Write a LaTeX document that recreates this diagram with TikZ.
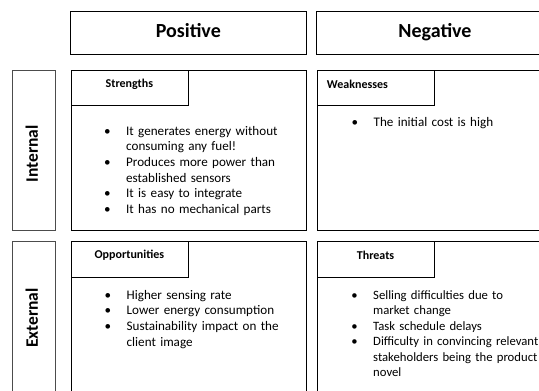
\documentclass[tikz,border=0pt]{standalone}
\usepackage{fontspec}
\setmainfont{Carlito}
\usetikzlibrary{positioning}
\newcommand\swbullet{\leavevmode\llap{\textbullet\hspace{15.5pt}}}

\begin{document}
\begin{tikzpicture}[x=1pt,y=-1pt,
		every node/.style={inner sep=0pt},
		headbox/.style={draw,line width=.8pt,minimum width=236.7pt,minimum height=43pt,text height=14pt,text depth=4pt,font=\fontsize{20}{24}\selectfont\bfseries},
		sidebox/.style={draw=black!70,line width=.8pt,minimum width=43pt,minimum height=160pt,anchor=north west},
		sidetext/.style={rotate=90,font=\fontsize{17.5}{21}\selectfont\bfseries},
		quadbox/.style={draw,line width=.8pt,minimum width=235pt,anchor=north west},
		tagbox/.style={draw,line width=.8pt,minimum width=117pt,minimum height=35.5pt,anchor=north west},
		tagtext/.style={font=\fontsize{12}{14}\selectfont\bfseries},
		listtext/.style={anchor=base west,text width=200pt,align=left,font=\fontsize{13.1}{15.7}\selectfont}]
	\useasboundingbox (0,0) rectangle (539,391);
	\clip (0,0) rectangle (539,391);
	% column heads
	\node[headbox] (pos) at (188.3,32.5) {Positive};
	\node[headbox] (neg) at (435,32.5) {Negative};
	% row heads
	\node[sidebox] (intl) at (12,70) {};
	\node[sidetext] at (31.8,154) {Internal};
	\node[sidebox,minimum height=170pt] (extl) at (12,241) {};
	\node[sidetext] at (31.8,318) {External};
	% the four fields
	\node[quadbox,minimum height=160pt] (str) at (70.5,69.5) {};
	\node[quadbox,minimum height=160pt] (weak) at (316.7,69.5) {};
	\node[quadbox,minimum height=170pt] (opp) at (70.5,241) {};
	\node[quadbox,minimum height=170pt] (thr) at (316.7,241) {};
	\node[tagbox] (strtag) at (str.north west) {};
	\node[tagbox] (weaktag) at (weak.north west) {};
	\node[tagbox] (opptag) at (opp.north west) {};
	\node[tagbox] (thrtag) at (thr.north west) {};
	\node[tagtext] at ([yshift=-14.5pt]strtag.north) {Strengths};
	\node[tagtext,anchor=west] at ([xshift=10pt,yshift=-14.5pt]weaktag.north west) {Weaknesses};
	\node[tagtext] at ([yshift=-14.5pt]opptag.north) {Opportunities};
	\node[tagtext] at ([yshift=-14.5pt]thrtag.north) {Threats};
	% bullet lists
	\node[listtext] (strlist) at (126,135) {\swbullet It generates energy without\\consuming any fuel!\\\swbullet Produces more power than\\established sensors\\\swbullet It is easy to integrate\\\swbullet It has no mechanical parts};
	\node[listtext] (weaklist) at (373.5,126) {\swbullet The initial cost is high};
	\node[listtext] (opplist) at (126.5,299) {\swbullet Higher sensing rate\\\swbullet Lower energy consumption\\\swbullet Sustainability impact on the\\client image};
	\node[listtext,font=\fontsize{12.7}{15.5}\selectfont] (thrlist) at (373,299) {\swbullet Selling difficulties due to\\market change\\\swbullet Task schedule delays\\\swbullet Difficulty in convincing relevant\\stakeholders being the product\\novel};
\end{tikzpicture}
\end{document}
